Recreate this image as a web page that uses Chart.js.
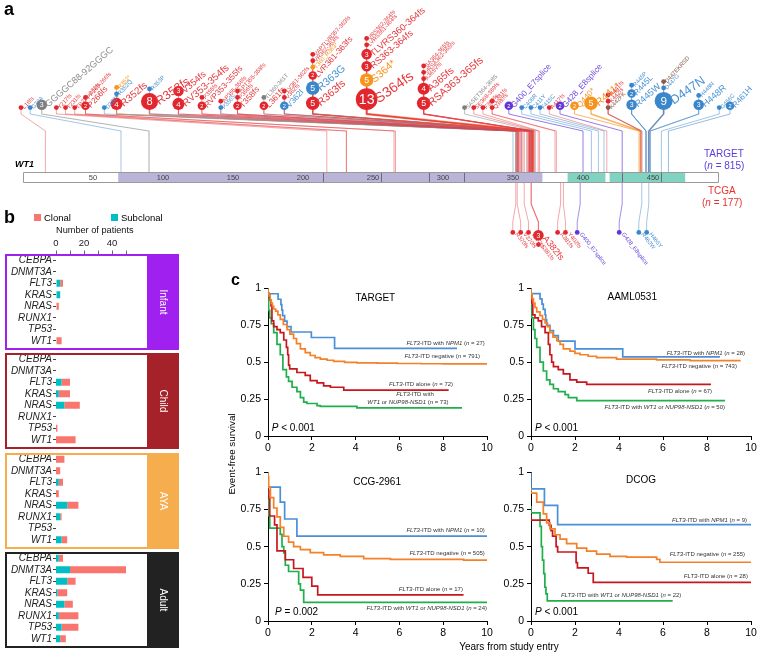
<!DOCTYPE html>
<html>
<head>
<meta charset="utf-8">
<script src="https://cdn.jsdelivr.net/npm/chart.js@4.4.1/dist/chart.umd.min.js"></script>
<style>
html,body{margin:0;padding:0;background:#fff}
body{width:761px;height:658px;position:relative;overflow:hidden;font-family:"Liberation Sans",Arial,Helvetica,sans-serif;color:#000}
canvas{position:absolute;display:block}
.tx{position:absolute;white-space:nowrap;line-height:1}
</style>
</head>
<body>
<canvas id="cA" width="761" height="278" style="left:0px;top:0px"></canvas>
<canvas id="bInfant" width="182" height="135" style="left:0px;top:225px"></canvas>
<canvas id="bChild" width="182" height="116" style="left:0px;top:343px"></canvas>
<canvas id="bAYA" width="182" height="116" style="left:0px;top:443px"></canvas>
<canvas id="bAdult" width="182" height="116" style="left:0px;top:542px"></canvas>
<canvas id="kT" width="272" height="180" style="left:226px;top:279px"></canvas>
<canvas id="kA" width="272" height="180" style="left:489px;top:279px"></canvas>
<canvas id="kC" width="272" height="182" style="left:226px;top:463px"></canvas>
<canvas id="kD" width="272" height="182" style="left:489px;top:463px"></canvas>
<script>
// ===================== DATA =====================
// Panel a: WT1 mutations  [label, patients, type, protein position, column]
const targetMutations = [
 ['L16fs',1,'fs',16,0], ['G70A',1,'mis',70,1], ['GGGGC88-92GGGC',3,'inf',90,2],
 ['Y217fs',1,'fs',217,3], ['T231fs',1,'fs',231,4], ['TP231-232fs',1,'fs',231,5],
 ['P266fs',2,'fs',266,6], ['PP265-266fs',1,'fs',265,6],
 ['D350Y',1,'mis',350,7],
 ['R352fs',4,'fs',352,8], ['R352Q',1,'mis',352,8], ['R352*',1,'non',352,8],
 ['R353fs',8,'fs',353,9], ['R353P',1,'mis',353,9],
 ['RV353-354fs',4,'fs',353,10], ['V354fs',3,'fs',354,10],
 ['RVP353-355fs',2,'fs',354,11], ['P355fs',1,'fs',355,11],
 ['P356S',1,'mis',356,12], ['AP355-356fs',1,'fs',355,12],
 ['T358fs',2,'fs',358,13], ['P356fs',1,'fs',356,13], ['APT355-358fs',1,'fs',357,13],
 ['L361fs',2,'fs',361,14], ['TL360-361T',1,'inf',360,14],
 ['V362I',2,'mis',362,15], ['V362fs',1,'fs',362,15], ['LV361-362fs',1,'fs',361,15],
 ['R363fs',5,'fs',363,16], ['R363G',5,'mis',363,16], ['LVR361-363fs',2,'fs',362,16],
 ['T360_R363*',1,'non',363,16], ['VR362-363fs',1,'fs',362,16], ['VAPTLVR357-363fs',1,'fs',360,16],
 ['S364fs',13,'fs',364,17], ['S364*',5,'non',364,17], ['RS363-364fs',3,'fs',363,17],
 ['TLVRS360-364fs',3,'fs',362,17], ['LVRS361-364fs',1,'fs',362,17], ['VRS362-364fs',1,'fs',363,17],
 ['RSA363-365fs',5,'fs',364,18], ['A365fs',4,'fs',365,18], ['A365Vfs',1,'fs',365,18],
 ['VRSA362-365fs',1,'fs',364,18], ['SA364-365fs',1,'fs',364,18],
 ['SASET364-368S',1,'inf',366,19], ['SE368-369fs',1,'fs',368,20], ['F369fs',1,'fs',369,21],
 ['Q380fs',1,'fs',380,22], ['L381fs',1,'fs',381,22],
 ['G400_E7splice',2,'spl',400,23], ['C406R',1,'mis',406,24], ['C411Y',1,'mis',411,25],
 ['F415C',1,'mis',415,26], ['A417fs',1,'fs',417,27], ['G428_E8splice',2,'spl',428,28],
 ['Q440*',2,'non',440,29], ['R441*',5,'non',441,30],
 ['K442FK',1,'oth',442,31], ['K442fs',1,'fs',442,31], ['R441fs',1,'fs',441,31],
 ['R445W',3,'mis',445,32], ['R445L',2,'mis',445,32], ['R445P',1,'mis',445,32],
 ['D447N',9,'mis',447,33], ['D447G',1,'mis',447,33], ['D447EKRSD',1,'oth',447,33],
 ['H448R',3,'mis',448,34], ['H448N',1,'mis',448,34],
 ['G456C',1,'mis',456,35], ['R461H',2,'mis',461,36]
];
const tcgaMutations = [
 ['R370fs',1,'fs',352,0], ['V370fs',1,'fs',353,1], ['T377fs',1,'fs',358,2],
 ['A382fs',3,'fs',363,3], ['S381fs',1,'fs',363,3],
 ['A381fs',1,'fs',384,4], ['Y402fs',1,'fs',386,5],
 ['G400_E7splice',1,'spl',398,6], ['G428_E8splice',1,'spl',428,7],
 ['R462W',1,'mis',442,8], ['H465Y',1,'mis',447,9]
];
const wt1Length = 497;
const wt1Domains = [[68,371,'#bab4d9'],[389,416,'#80d3c0'],[419,473,'#80d3c0']];
const wt1ExonBounds = [214,256,290,315,428,456];
const wt1Ticks = [50,100,150,200,250,300,350,400,450];

// Panel b: mutated genes by age group (number of patients)
const genes = ['CEBPA','DNMT3A','FLT3','KRAS','NRAS','RUNX1','TP53','WT1'];
const ageGroups = ['Infant','Child','AYA','Adult'];
const subclonalInfant = [0,0,3,3,0,0,0,0];
const clonalInfant    = [0,0,2,0,2,0,0,4];
const subclonalChild  = [0,0,4,2,6,0,0,0];
const clonalChild     = [0,0,6,8,11,0,1,14];
const subclonalAYA    = [0,0,2,0,8,3,0,4];
const clonalAYA       = [6,3,3,2,8,1,0,4];
const subclonalAdult  = [2,10,8,1,6,2,4,3];
const clonalAdult     = [3,40,6,7,6,14,12,4];

// Panel c: Kaplan-Meier event-free survival [years, survival]
const kmTargetNpm1  = [[0,1],[0.46,0.963],[0.59,0.926],[0.63,0.889],[0.67,0.852],[0.76,0.815],[0.87,0.778],[1.05,0.741],[1.98,0.704],[3.04,0.667],[5.89,0.593],[8.63,0.593]];
const kmTargetNeg   = [[0,1],[0.05,0.97],[0.1,0.95],[0.15,0.92],[0.2,0.9],[0.26,0.88],[0.35,0.86],[0.45,0.845],[0.56,0.82],[0.7,0.79],[0.87,0.755],[1.0,0.72],[1.17,0.69],[1.3,0.66],[1.48,0.625],[1.7,0.59],[1.93,0.565],[2.15,0.545],[2.39,0.53],[2.7,0.52],[3.0,0.513],[3.5,0.505],[4.06,0.498],[5.0,0.495],[5.9,0.493],[7.0,0.491],[8.0,0.489],[10,0.488]];
const kmTargetAlone = [[0,1],[0.08,0.96],[0.14,0.92],[0.18,0.88],[0.26,0.78],[0.41,0.74],[0.56,0.72],[0.72,0.70],[0.84,0.65],[0.9,0.6],[0.94,0.55],[0.99,0.48],[1.32,0.455],[1.7,0.43],[1.93,0.41],[2.24,0.375],[2.54,0.36],[2.85,0.34],[3.46,0.33],[4.06,0.31],[8.25,0.31]];
const kmTargetWt1   = [[0,1],[0.03,0.92],[0.08,0.85],[0.15,0.8],[0.26,0.76],[0.41,0.7],[0.56,0.62],[0.68,0.55],[0.84,0.45],[0.94,0.4],[1.1,0.37],[1.32,0.33],[1.48,0.3],[1.63,0.26],[1.78,0.23],[2.24,0.22],[2.39,0.205],[4.06,0.2],[4.2,0.19],[8.86,0.19]];

const kmAamlNpm1  = [[0,1],[0.41,0.964],[0.5,0.929],[0.56,0.893],[0.64,0.857],[0.67,0.821],[0.71,0.786],[0.86,0.75],[1.02,0.714],[1.24,0.679],[2.0,0.643],[4.17,0.59],[5.9,0.536],[8.59,0.536]];
const kmAamlNeg   = [[0,1],[0.05,0.96],[0.11,0.93],[0.18,0.9],[0.26,0.87],[0.41,0.84],[0.52,0.815],[0.64,0.79],[0.75,0.765],[0.86,0.74],[1.0,0.7],[1.17,0.67],[1.32,0.645],[1.47,0.62],[1.77,0.59],[2.0,0.575],[2.23,0.56],[2.6,0.55],[2.98,0.54],[3.89,0.53],[5.71,0.52],[7.23,0.516],[8.74,0.51],[9.53,0.51]];
const kmAamlAlone = [[0,1],[0.04,0.95],[0.08,0.9],[0.18,0.82],[0.33,0.8],[0.48,0.78],[0.64,0.74],[0.79,0.7],[0.86,0.62],[0.94,0.55],[1.02,0.5],[1.24,0.47],[1.47,0.45],[1.77,0.42],[2.08,0.38],[2.53,0.365],[3.97,0.35],[8.18,0.35]];
const kmAamlWt1   = [[0,1],[0.03,0.9],[0.11,0.8],[0.18,0.72],[0.26,0.66],[0.41,0.6],[0.56,0.5],[0.71,0.44],[0.86,0.38],[1.02,0.35],[1.24,0.32],[1.55,0.3],[1.7,0.28],[2.08,0.26],[2.38,0.24],[8.82,0.24]];

const kmCcgNpm1  = [[0,1],[0.56,0.9],[0.76,0.8],[1.32,0.686],[3.07,0.571],[10,0.571]];
const kmCcgNeg   = [[0,1],[0.03,0.97],[0.11,0.9],[0.26,0.83],[0.41,0.76],[0.56,0.7],[0.72,0.63],[0.94,0.57],[1.17,0.53],[1.48,0.5],[1.93,0.48],[2.54,0.46],[3.3,0.445],[4.37,0.435],[5.59,0.42],[8.93,0.415],[10,0.41]];
const kmCcgAlone = [[0,1],[0.03,0.882],[0.08,0.824],[0.3,0.706],[0.41,0.647],[0.79,0.471],[1.17,0.412],[1.6,0.353],[2.0,0.294],[2.27,0.235],[3.23,0.176],[8.93,0.176]];
const kmCcgWt1   = [[0,1],[0.03,0.875],[0.08,0.708],[0.56,0.625],[0.64,0.583],[0.72,0.5],[0.79,0.458],[0.94,0.375],[1.4,0.333],[1.48,0.25],[1.63,0.208],[1.78,0.125],[10,0.125]];

const kmDcogNpm1  = [[0,1],[0.61,0.889],[1.21,0.778],[3.33,0.648],[10,0.648]];
const kmDcogNeg   = [[0,0.89],[0.26,0.86],[0.56,0.8],[0.71,0.72],[0.86,0.66],[1.09,0.62],[1.32,0.58],[1.62,0.55],[2.08,0.52],[2.53,0.49],[2.98,0.47],[3.59,0.45],[4.35,0.435],[5.71,0.43],[5.86,0.415],[9.05,0.395],[10,0.395]];
const kmDcogAlone = [[0,0.714],[0.83,0.679],[0.91,0.643],[0.98,0.607],[1.14,0.571],[1.21,0.5],[2.05,0.464],[2.11,0.393],[2.6,0.357],[2.83,0.321],[4.85,0.26],[10,0.26]];
const kmDcogWt1   = [[0,0.773],[0.41,0.727],[0.47,0.636],[0.52,0.5],[0.58,0.409],[0.63,0.318],[0.68,0.227],[0.74,0.182],[1.21,0.136],[6.44,0.136]];

const kmYTicks = [0,0.25,0.5,0.75,1];
const kmXTicks = [0,2,4,6,8,10];

// ===================== STYLE / LAYOUT =====================
const FONT = '"Liberation Sans", Arial, Helvetica, sans-serif';
Chart.defaults.font.family = FONT;
Chart.defaults.color = '#000';
const typeColor  = {fs:'#e2262e', mis:'#3a86cb', non:'#f7941d', inf:'#7f7f7f', spl:'#6236d6', oth:'#8c5a4c'};
const labelColor = {fs:'#e5393e', mis:'#4a92d3', non:'#f7941d', inf:'#8a8a8a', spl:'#6a45dc', oth:'#8c5a4c'};
const lineColor  = {fs:'rgba(230,60,65,0.55)', mis:'rgba(70,140,205,0.6)', non:'rgba(247,148,29,0.7)', inf:'rgba(130,130,130,0.6)', spl:'rgba(100,60,215,0.7)', oth:'rgba(140,90,76,0.6)'};
const kmColors = {npm1:'#4a8fd8', neg:'#f4812a', alone:'#c8161d', wt1:'#1faf4b'};
const CLONAL = '#f8766d', SUBCLONAL = '#00bfc4';
const groupColor = {Infant:'#a020f0', Child:'#a6222b', AYA:'#f6ad4e', Adult:'#222222'};

function place(html, x, base, size, extra){
  const d = document.createElement('div');
  d.className = 'tx'; d.innerHTML = html;
  d.style.left = x + 'px'; d.style.top = (base - 0.847*size) + 'px'; d.style.fontSize = size + 'px';
  if (extra) d.style.cssText += extra;
  document.body.appendChild(d); return d;
}
function drawRich(ctx, str, x, y, size, align, color){
  const segs = str.split('_').map((s,i)=>({s, it:i%2===1})).filter(g=>g.s.length);
  let w = 0;
  segs.forEach(g=>{ ctx.font=(g.it?'italic ':'')+size+'px '+FONT; g.w=ctx.measureText(g.s).width; w+=g.w; });
  let cx = align==='right' ? x-w : align==='center' ? x-w/2 : x;
  ctx.fillStyle=color; ctx.textBaseline='middle'; ctx.textAlign='left';
  segs.forEach(g=>{ ctx.font=(g.it?'italic ':'')+size+'px '+FONT; ctx.fillText(g.s,cx,y); cx+=g.w; });
}

// ===================== PANEL A =====================
const PX_PER_AA = 1.4, AA0_PX = 23, A_W = 761, A_H = 278;
const TOP_BASE = 110, BOT_BASE = 230, STACK_GAP = 1.6;
const BAR_TOP = 172, BAR_BOT = 183;
const rad = c => 2.4 + 1.9*Math.pow(c-1, 0.6);
const fsz = c => 5.8 + 2.4*Math.sqrt(c-1);
const toAA = px => (px-AA0_PX)/PX_PER_AA;
const toPX = aa => AA0_PX + aa*PX_PER_AA;
function group(muts){
  const cols=[];
  muts.forEach(([label,count,type,pos,col])=>{ if(!cols[col]) cols[col]=[]; cols[col].push({label,count,type,pos,r:rad(count),f:fsz(count)}); });
  return cols;
}
function layoutSpread(cols, left, right){
  const xs=[0];
  for(let i=1;i<cols.length;i++){
    const p=cols[i-1], c=cols[i];
    const rp=Math.max(...p.map(m=>m.r)), rc=Math.max(...c.map(m=>m.r));
    xs.push(xs[i-1] + 0.7*(rp+rc) + 0.75*p[0].f + 5*(p.length-1));
  }
  const k=(right-left)/xs[xs.length-1];
  return xs.map(v=>left+v*k);
}
function layoutRepel(cols){
  const want = cols.map(c=>toPX(c[0].pos));
  const xs=[];
  cols.forEach((c,i)=>{
    if(i===0){ xs.push(want[0]); return; }
    const rp=Math.max(...cols[i-1].map(m=>m.r)), rc=Math.max(...c.map(m=>m.r));
    xs.push(Math.max(want[i], xs[i-1]+0.7*(rp+rc)+4.5));
  });
  const shift=(want.reduce((a,b)=>a+b,0)-xs.reduce((a,b)=>a+b,0))/xs.length;
  return xs.map(v=>v+shift);
}
function stackPoints(cols, xs, base, dir){
  const pts=[];
  cols.forEach((c,i)=>{
    let y=0, prevR=0;
    c.forEach((m,k)=>{
      y = k===0 ? base - dir*m.r : y - dir*(prevR + m.r + STACK_GAP);
      prevR = m.r;
      pts.push(Object.assign({x:toAA(xs[i]), y:y}, m));
    });
  });
  return pts;
}
const targetCols = group(targetMutations);
const tcgaCols = group(tcgaMutations);
const topPts = stackPoints(targetCols, layoutSpread(targetCols, 21, 730), TOP_BASE, 1);
const botPts = stackPoints(tcgaCols, layoutRepel(tcgaCols), BOT_BASE, -1);

const lollipopPlugin = {
  id:'lollipop',
  beforeDatasetsDraw(chart){
    const {ctx, scales:{x,y}} = chart;
    const yT = y.getPixelForValue(BAR_TOP), yB = y.getPixelForValue(BAR_BOT);
    ctx.save();
    ctx.lineJoin='round';
    const m0 = chart.getDatasetMeta(0), m1 = chart.getDatasetMeta(1);
    m0.data.forEach((el,j)=>{
      const m = chart.data.datasets[0].data[j];
      const tx = x.getPixelForValue(m.pos);
      ctx.strokeStyle = lineColor[m.type]; ctx.lineWidth = 0.7 + 0.13*m.count;
      ctx.beginPath(); ctx.moveTo(el.x, el.y); ctx.lineTo(el.x, y.getPixelForValue(114));
      ctx.lineTo(tx, y.getPixelForValue(131)); ctx.lineTo(tx, yT); ctx.stroke();
    });
    m1.data.forEach((el,j)=>{
      const m = chart.data.datasets[1].data[j];
      const tx = x.getPixelForValue(m.pos);
      ctx.strokeStyle = lineColor[m.type]; ctx.lineWidth = 0.7 + 0.13*m.count;
      ctx.beginPath(); ctx.moveTo(tx, yB); ctx.lineTo(tx, y.getPixelForValue(204));
      ctx.lineTo(el.x, y.getPixelForValue(222)); ctx.lineTo(el.x, el.y); ctx.stroke();
    });
    const bx0 = x.getPixelForValue(0), bx1 = x.getPixelForValue(wt1Length);
    ctx.fillStyle='#fff'; ctx.fillRect(bx0, yT, bx1-bx0, yB-yT);
    wt1Domains.forEach(d=>{ const a=x.getPixelForValue(d[0]), b=x.getPixelForValue(d[1]); ctx.fillStyle=d[2]; ctx.fillRect(a, yT, b-a, yB-yT); });
    ctx.strokeStyle='#6d6a80'; ctx.lineWidth=1;
    wt1ExonBounds.forEach(p=>{ const px=Math.round(x.getPixelForValue(p))+0.5; ctx.beginPath(); ctx.moveTo(px,yT); ctx.lineTo(px,yB); ctx.stroke(); });
    ctx.strokeStyle='#9a9a9a'; ctx.strokeRect(Math.round(bx0)+0.5, yT+0.5, Math.round(bx1-bx0)-1, yB-yT-1);
    ctx.fillStyle='#444'; ctx.font='7.5px '+FONT; ctx.textAlign='center'; ctx.textBaseline='middle';
    wt1Ticks.forEach(t=>ctx.fillText(String(t), x.getPixelForValue(t), (yT+yB)/2+0.5));
    ctx.restore();
  },
  afterDatasetsDraw(chart){
    const {ctx} = chart;
    ctx.save();
    [0,1].forEach(di=>{
      const meta = chart.getDatasetMeta(di);
      meta.data.forEach((el,j)=>{
        const m = chart.data.datasets[di].data[j];
        if (m.count>1){
          ctx.fillStyle='#fff'; ctx.font=(m.r*1.3).toFixed(1)+'px '+FONT; ctx.textAlign='center'; ctx.textBaseline='middle';
          ctx.fillText(String(m.count), el.x, el.y+0.5);
        }
        ctx.save();
        ctx.font = m.f.toFixed(1)+'px '+FONT; ctx.fillStyle = labelColor[m.type]; ctx.textAlign='left'; ctx.textBaseline='alphabetic';
        if (di===0){
          const ang = m.count>=8 ? -35 : m.count>=3 ? -41 : -48;
          ctx.translate(el.x + m.r + 1.2, el.y + m.f*0.3);
          ctx.rotate(ang*Math.PI/180);
        } else {
          ctx.translate(el.x + m.r*0.6 + 0.8, el.y + m.r*0.4 + 1);
          ctx.rotate(52*Math.PI/180);
        }
        ctx.fillText(m.label, 0, 0);
        ctx.restore();
      });
    });
    ctx.restore();
  }
};
new Chart(document.getElementById('cA'), {
  type:'scatter',
  data:{datasets:[
    {label:'TARGET', data:topPts, pointRadius:c=>c.raw?c.raw.r:2, pointHoverRadius:c=>c.raw?c.raw.r:2, pointBackgroundColor:c=>c.raw?typeColor[c.raw.type]:'#000', pointBorderWidth:0, clip:false},
    {label:'TCGA', data:botPts, pointRadius:c=>c.raw?c.raw.r:2, pointHoverRadius:c=>c.raw?c.raw.r:2, pointBackgroundColor:c=>c.raw?typeColor[c.raw.type]:'#000', pointBorderWidth:0, clip:false}
  ]},
  options:{
    animation:false, responsive:false, events:[],
    layout:{padding:0, autoPadding:false},
    plugins:{legend:{display:false}, tooltip:{enabled:false}},
    scales:{
      x:{type:'linear', display:false, min:toAA(0), max:toAA(A_W)},
      y:{type:'linear', display:false, min:0, max:A_H, reverse:true}
    }
  },
  plugins:[lollipopPlugin]
});

// ===================== PANEL B =====================
function boxPlugin(name){
  const color = groupColor[name];
  return {
    id:'box'+name,
    beforeDatasetsDraw(chart){
      const {ctx, chartArea:a} = chart;
      const t=a.top-0.5, b=a.bottom+3.5, sw=32;
      ctx.save();
      ctx.fillStyle=color; ctx.fillRect(a.right, t, sw, b-t);
      ctx.strokeStyle=color; ctx.lineWidth=2; ctx.strokeRect(6, t+1, a.right+sw-7, b-t-2);
      ctx.translate(a.right+sw/2, (t+b)/2); ctx.rotate(Math.PI/2);
      ctx.fillStyle='#fff'; ctx.font='10px '+FONT; ctx.textAlign='center'; ctx.textBaseline='middle';
      ctx.fillText(name, 0, 0);
      ctx.restore();
    }
  };
}
function ageChart(id, name, sub, clo, first){
  new Chart(document.getElementById(id), {
    type:'bar',
    data:{labels:genes, datasets:[
      {label:'Subclonal', data:sub, backgroundColor:SUBCLONAL, borderWidth:0, barPercentage:0.6, categoryPercentage:1},
      {label:'Clonal', data:clo, backgroundColor:CLONAL, borderWidth:0, barPercentage:0.6, categoryPercentage:1}
    ]},
    options:{
      indexAxis:'y', animation:false, responsive:false, events:[],
      layout:{padding:{left:0, right:35, top: first?0:10.5, bottom:13.5}, autoPadding:false},
      plugins:{legend:{display:false}, tooltip:{enabled:false}},
      scales:{
        x:{type:'linear', min:0, max:65, stacked:true, position:'top', display:first,
           ticks:{stepSize:10, autoSkip:false, maxRotation:0, padding:1, color:'#222', font:{size:9.5},
                  callback:v=> v>50 ? null : (v%20===0 ? String(v) : '')},
           grid:{display:true, drawOnChartArea:false, drawTicks:true, tickLength:4, color:'#666'},
           border:{display:false},
           title:{display:true, text:'Number of patients', align:'start', color:'#111', font:{size:9.2}, padding:{top:0,bottom:0}},
           afterFit:s=>{ if (first) s.height = 29.5; }},
        y:{type:'category', stacked:true,
           ticks:{padding:1, autoSkip:false, color:'#222', font:{size:10, style:'italic'}},
           grid:{display:true, offset:false, drawOnChartArea:false, drawTicks:true, tickLength:3, color:'#444'},
           border:{display:false},
           afterFit:s=>{ s.width = 56; }}
      }
    },
    plugins:[boxPlugin(name)]
  });
}
ageChart('bInfant','Infant',subclonalInfant,clonalInfant,true);
ageChart('bChild','Child',subclonalChild,clonalChild,false);
ageChart('bAYA','AYA',subclonalAYA,clonalAYA,false);
ageChart('bAdult','Adult',subclonalAdult,clonalAdult,false);

// ===================== PANEL C =====================
function kmChart(id, cfg){
  const curves = [['neg',cfg.neg],['npm1',cfg.npm1],['alone',cfg.alone],['wt1',cfg.wt1]];
  const textPlugin = {
    id:'kmText',
    afterDatasetsDraw(chart){
      const {ctx, scales:{x,y}} = chart;
      ctx.save();
      ctx.fillStyle='#000'; ctx.font='10px '+FONT; ctx.textAlign='center'; ctx.textBaseline='middle';
      ctx.fillText(cfg.title, x.getPixelForValue(cfg.titlePos[0]), y.getPixelForValue(cfg.titlePos[1]));
      drawRich(ctx, cfg.pText, x.getPixelForValue(cfg.pPos[0]), y.getPixelForValue(cfg.pPos[1]), 10, 'left', '#000');
      cfg.labels.forEach(l=>drawRich(ctx, l[0], x.getPixelForValue(l[1]), y.getPixelForValue(l[2]), 6, l[3], '#333'));
      ctx.restore();
    }
  };
  new Chart(document.getElementById(id), {
    type:'line',
    data:{datasets:curves.map(([k,pts])=>({label:k, data:pts.map(p=>({x:p[0], y:p[1]})), borderColor:kmColors[k], borderWidth:1.7, pointRadius:0, stepped:'after', fill:false, tension:0}))},
    options:{
      animation:false, responsive:false, events:[],
      layout:{padding:{left:0, top:cfg.padTop, right:cfg.padRight, bottom:0}, autoPadding:false},
      plugins:{legend:{display:false}, tooltip:{enabled:false}},
      scales:{
        x:{type:'linear', min:0, max:10,
           afterBuildTicks:s=>{ s.ticks = kmXTicks.map(v=>({value:v})); },
           ticks:{padding:2, maxRotation:0, autoSkip:false, color:'#000', font:{size:10.5}},
           grid:{display:true, drawOnChartArea:false, drawTicks:true, tickLength:4, color:'#000'},
           border:{display:true, color:'#000', width:1},
           afterFit:s=>{ s.height = cfg.axisH; }},
        y:{type:'linear', min:0, max:1,
           afterBuildTicks:s=>{ s.ticks = kmYTicks.map(v=>({value:v})); },
           ticks:{padding:3, color:'#000', font:{size:10.5}, callback:v=>String(v)},
           grid:{display:true, drawOnChartArea:false, drawTicks:true, tickLength:4, color:'#000'},
           border:{display:true, color:'#000', width:1},
           afterFit:s=>{ s.width = 42; }}
      }
    },
    plugins:[textPlugin]
  });
}
kmChart('kT', {title:'TARGET', titlePos:[4.9,0.933], pText:'_P_ < 0.001', pPos:[0.17,0.054],
  npm1:kmTargetNpm1, neg:kmTargetNeg, alone:kmTargetAlone, wt1:kmTargetWt1, padTop:8, padRight:11, axisH:23,
  labels:[['_FLT3_-ITD with _NPM1_ (_n_ = 27)',9.9,0.63,'right'],['_FLT3_-ITD negative (_n_ = 791)',9.68,0.537,'right'],
          ['_FLT3_-ITD alone (_n_ = 72)',8.45,0.349,'right'],['_FLT3_-ITD with',6.71,0.282,'center'],
          ['_WT1_ or _NUP98-NSD1_ (_n_ = 73)',6.39,0.228,'center']]});
kmChart('kA', {title:'AAML0531', titlePos:[4.6,0.94], pText:'_P_ < 0.001', pPos:[0.18,0.054],
  npm1:kmAamlNpm1, neg:kmAamlNeg, alone:kmAamlAlone, wt1:kmAamlWt1, padTop:9, padRight:10, axisH:23,
  labels:[['_FLT3_-ITD with _NPM1_ (_n_ = 28)',9.73,0.56,'right'],['_FLT3_-ITD negative (_n_ = 743)',9.36,0.473,'right'],
          ['_FLT3_-ITD alone (_n_ = 67)',8.23,0.304,'right'],['_FLT3_-ITD with _WT1_ or _NUP98-NSD1_ (_n_ = 50)',8.82,0.196,'right']]});
kmChart('kC', {title:'CCG-2961', titlePos:[4.98,0.933], pText:'_P_ = 0.002', pPos:[0.32,0.06],
  npm1:kmCcgNpm1, neg:kmCcgNeg, alone:kmCcgAlone, wt1:kmCcgWt1, padTop:8, padRight:11, axisH:24,
  labels:[['_FLT3_-ITD with _NPM1_ (_n_ = 10)',9.9,0.607,'right'],['_FLT3_-ITD negative (_n_ = 505)',9.9,0.453,'right'],
          ['_FLT3_-ITD alone (_n_ = 17)',8.9,0.213,'right'],['_FLT3_-ITD with _WT1_ or _NUP98-NSD1_ (_n_ = 24)',10.0,0.087,'right']]});
kmChart('kD', {title:'DCOG', titlePos:[5.0,0.946], pText:'_P_ < 0.001', pPos:[0.18,0.06],
  npm1:kmDcogNpm1, neg:kmDcogNeg, alone:kmDcogAlone, wt1:kmDcogWt1, padTop:9, padRight:10, axisH:24,
  labels:[['_FLT3_-ITD with _NPM1_ (_n_ = 9)',9.82,0.678,'right'],['_FLT3_-ITD negative (_n_ = 255)',9.73,0.45,'right'],
          ['_FLT3_-ITD alone (_n_ = 28)',9.86,0.302,'right'],['_FLT3_-ITD with _WT1_ or _NUP98-NSD1_ (_n_ = 22)',1.36,0.174,'left']]});

// ===================== FREE TEXT =====================
place('a', 4, 15, 18, 'font-weight:bold');
place('b', 4, 223, 18, 'font-weight:bold');
place('c', 231, 286, 16, 'font-weight:bold');
place('WT1', 15, 168, 9, 'font-weight:bold;font-style:italic');
place('TARGET', 704, 157, 10, 'color:#5b3ddb');
place('(<i>n</i> = 815)', 704, 169, 10, 'color:#5b3ddb');
place('TCGA', 708, 194, 10, 'color:#e8312f');
place('(<i>n</i> = 177)', 702, 206, 10, 'color:#e8312f');
[['Clonal',34,44,CLONAL],['Subclonal',111,121,SUBCLONAL]].forEach(([t,sx,tx,c])=>{
  const s=document.createElement('div'); s.style.cssText='position:absolute;left:'+sx+'px;top:214px;width:7px;height:7px;background:'+c;
  document.body.appendChild(s); place(t, tx, 221, 9.5);
});
place('Event-free survival', 232, 458, 9.8, 'transform:translate(-50%,-50%) rotate(-90deg);transform-origin:50% 50%;top:454px');
place('Years from study entry', 509, 650, 10, 'transform:translateX(-50%)');
</script>
</body>
</html>
